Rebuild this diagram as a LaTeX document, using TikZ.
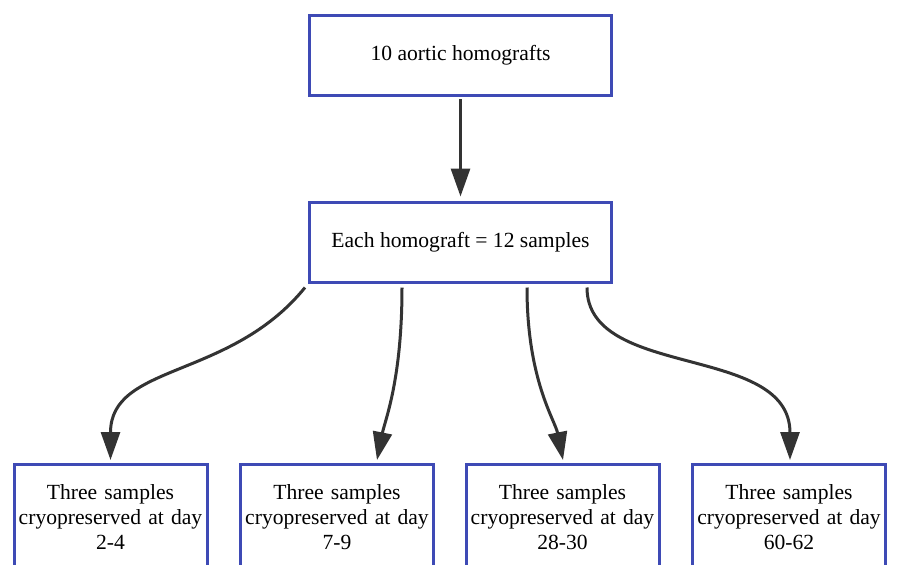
\documentclass[tikz,border=0pt]{standalone}
\usepackage{fontspec}
\setmainfont{Liberation Serif}
\usetikzlibrary{arrows.meta,calc}
\definecolor{boxblue}{RGB}{62,74,181}
\definecolor{arrowgray}{RGB}{51,51,51}
\begin{document}
\begin{tikzpicture}[x=1pt,y=-1pt,
  box/.style={draw=boxblue,line width=3pt,fill=white,inner sep=0pt,align=center,
    font=\fontsize{21.6pt}{25pt}\selectfont},
  topbox/.style={box,minimum width=302pt,minimum height=80pt},
  leafbox/.style={box,minimum width=193pt,minimum height=105pt,text width=190pt},
  conn/.style={draw=arrowgray,line width=3pt,-{Triangle[length=28pt,width=19pt]}}]
\useasboundingbox (0,0) rectangle (903,565);
\clip (0,0) rectangle (903,565);
\fill[white] (0,0) rectangle (903,565);
\node[topbox] (top) at (460.5,55.5) {10 aortic homografts};
\node[topbox] (mid) at (460.5,242) {Each homograft = 12 samples};
\node[leafbox] (b1) at (110.5,517) {Three samples\\cryopreserved at day\\2-4};
\node[leafbox] (b2) at (337,517) {Three samples\\cryopreserved at day\\7-9};
\node[leafbox] (b3) at (562.5,517) {Three samples\\cryopreserved at day\\28-30};
\node[leafbox] (b4) at (789,517) {Three samples\\cryopreserved at day\\60-62};
\draw[conn] ($(top.south)+(0,2)$) -- ($(mid.north)+(0,-4)$);
\draw[conn] ($(mid.south)+(-155.5,4)$) .. controls (230,380) and ($(b1.north)+(0,-100)$) .. ($(b1.north)+(0,-3)$);
\draw[conn] ($(mid.south)+(-58.5,4)$) .. controls (402,380) and (385,420) .. ($(b2.north)+(40,-3)$);
\draw[conn] ($(mid.south)+(66.5,4)$) .. controls (527,380) and (555,420) .. ($(b3.north)+(0.5,-3)$);
\draw[conn] ($(mid.south)+(126.5,4)$) .. controls (587,380) and ($(b4.north)+(1,-120)$) .. ($(b4.north)+(1,-3)$);
\end{tikzpicture}
\end{document}
